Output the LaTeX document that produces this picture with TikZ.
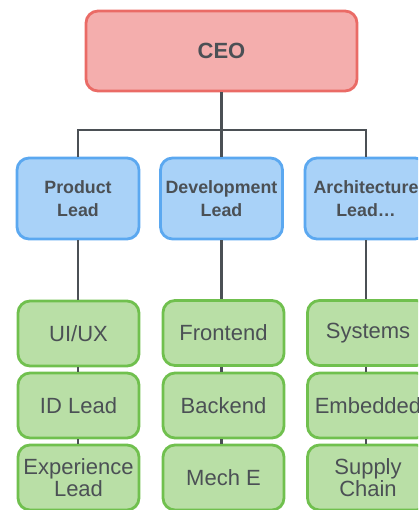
\documentclass[tikz,border=0pt]{standalone}
\usepackage{fontspec}
\setmainfont{Liberation Sans}
\definecolor{ceofill}{HTML}{F4AEAD}
\definecolor{ceoline}{HTML}{EA6B66}
\definecolor{bluefill}{HTML}{A9D2F8}
\definecolor{blueline}{HTML}{5BA8F0}
\definecolor{greenfill}{HTML}{B9DFA6}
\definecolor{greenline}{HTML}{70C04E}
\definecolor{txt}{HTML}{4B5055}
\begin{document}
\begin{tikzpicture}[x=1pt,y=-1pt,
  box/.style={rounded corners=12pt, line width=2.8pt, inner sep=0pt, align=center, text=txt},
  ceobox/.style={box, fill=ceofill, draw=ceoline, minimum width=271pt, minimum height=80pt,
     font=\fontsize{22}{26}\selectfont\bfseries},
  leadbox/.style={box, fill=bluefill, draw=blueline, minimum width=122pt, minimum height=81pt,
     font=\fontsize{17.8}{22.5}\selectfont\bfseries},
  teambox/.style={box, fill=greenfill, draw=greenline, minimum width=121pt, minimum height=65pt,
     font=\fontsize{22}{20}\selectfont},
  conn/.style={draw=txt, line width=2.8pt}]
\useasboundingbox (0,0) rectangle (418,510);
\clip (0,0) rectangle (418,510);
\node[ceobox] (ceo) at (221.5,51) {CEO};
\node[leadbox] (b1) at (78,198.5) {Product\\Lead};
\node[leadbox] (b2) at (221.5,198.5) {Development\\Lead};
\node[leadbox] (b3) at (366,198.5) {Architecture\\Lead…};
\node[teambox] (g1a) at (78.5,333.5) {UI/UX};
\node[teambox] (g1b) at (78.5,405.5) {ID Lead};
\node[teambox] (g1c) at (78.5,477.5) {Experience\\Lead};
\node[teambox] (g2a) at (223.5,333) {Frontend};
\node[teambox] (g2b) at (223.5,405.5) {Backend};
\node[teambox] (g2c) at (223.5,477.5) {Mech E};
\node[teambox] (g3a) at (368,333) {Systems};
\node[teambox] (g3b) at (368,405.5) {Embedded};
\node[teambox] (g3c) at (368,477.5) {Supply\\Chain};
\coordinate (bus) at (221.5,130);
\draw[conn] (ceo.south) -- (b2.north);
\draw[conn] (b1.north) -- (b1.north |- bus) -- (b3.north |- bus) -- (b3.north);
\draw[conn] (b1.south) -- (b1.south |- g1a.north);
\draw[conn] (b2.south) -- (b2.south |- g2a.north);
\draw[conn] (b3.south) -- (b3.south |- g3a.north);
\draw[conn] (g1a.south -| b1.south) -- (g1b.north -| b1.south);
\draw[conn] (g1b.south -| b1.south) -- (g1c.north -| b1.south);
\draw[conn] (g2a.south -| b2.south) -- (g2b.north -| b2.south);
\draw[conn] (g2b.south -| b2.south) -- (g2c.north -| b2.south);
\draw[conn] (g3a.south -| b3.south) -- (g3b.north -| b3.south);
\draw[conn] (g3b.south -| b3.south) -- (g3c.north -| b3.south);
\end{tikzpicture}
\end{document}
